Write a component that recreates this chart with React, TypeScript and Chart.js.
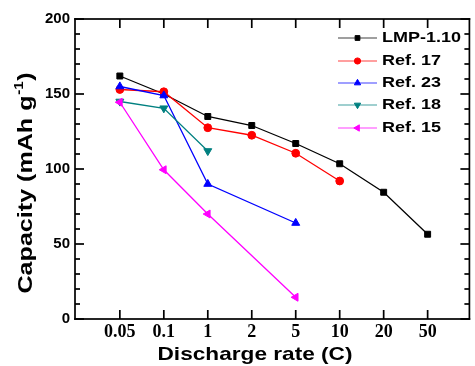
import React, { useEffect, useRef } from 'react';
import { Chart, registerables } from 'chart.js';
import { drawPoint } from 'chart.js/helpers';

Chart.register(...registerables);

const rateLabels = ['0.05', '0.1', '1', '2', '5', '10', '20', '50'];
const yTicks = [0, 50, 100, 150, 200];
const lmp110 = [162, 150, 135, 129, 117, 103.5, 84.5, 56.5];
const ref17 = [153, 151.5, 127.5, 122.5, 110.5, 92];
const ref23 = [155, 149, 90, null, 64];
const ref18 = [145, 140.5, 112];
const ref15 = [144.5, 99.5, 70, null, 14.5];

const seriesNames = ['LMP-1.10', 'Ref. 17', 'Ref. 23', 'Ref. 18', 'Ref. 15'];
const seriesValues = [lmp110, ref17, ref23, ref18, ref15];
const seriesColors = ['#000000', '#ff0000', '#0000ff', '#008080', '#ff00ff'];
const seriesStyles = ['rect', 'circle', 'triangle', 'triangle', 'triangle'];
const seriesRot = [0, 0, 0, 180, -90];
const seriesRadius = [4.2, 3.9, 4.6, 4.6, 4.6];

const toPoints = (arr: (number | null)[]) =>
  arr.map((v, i) => (v == null ? null : { x: i, y: v })).filter((p) => p !== null);

const framePlugin = {
  id: 'boxFrame',
  afterDraw(chart: any) {
    const ctx: CanvasRenderingContext2D = chart.ctx;
    const { left, right, top, bottom } = chart.chartArea;
    const xs = chart.scales.x;
    const ys = chart.scales.y;
    ctx.save();
    ctx.fillStyle = '#000000';
    const lw = 1.7;
    ctx.fillRect(left - lw / 2, top - lw / 2, right - left + lw, lw);
    ctx.fillRect(left - lw / 2, bottom - lw / 2, right - left + lw, lw);
    ctx.fillRect(left - lw / 2, top - lw / 2, lw, bottom - top + lw);
    ctx.fillRect(right - lw / 2, top - lw / 2, lw, bottom - top + lw);
    const tw = 1.7;
    for (let i = 0; i < rateLabels.length; i++) {
      const px = xs.getPixelForValue(i);
      ctx.fillRect(px - tw / 2, bottom - 9, tw, 9);
      ctx.fillRect(px - tw / 2, top, tw, 9);
    }
    for (let v = 0; v <= 200; v += 10) {
      const py = ys.getPixelForValue(v);
      const len = v % 50 === 0 ? 9 : 5;
      ctx.fillRect(left, py - tw / 2, len, tw);
      ctx.fillRect(right - len, py - tw / 2, len, tw);
    }
    ctx.restore();
  },
};

const textPlugin = {
  id: 'titlesLegend',
  afterDraw(chart: any) {
    const { ctx } = chart;
    ctx.save();
    ctx.fillStyle = '#000';
    // x title
    ctx.font = 'bold 19px "Liberation Sans", Arial, sans-serif';
    ctx.textBaseline = 'middle';
    const xt = 'Discharge rate (C)';
    const xw = ctx.measureText(xt).width;
    ctx.save();
    ctx.translate(255, 355);
    ctx.scale(195 / xw, 1);
    ctx.textAlign = 'center';
    ctx.fillText(xt, 0, 0);
    ctx.restore();

    // y title
    const mainFont = 'bold 20px "Liberation Sans", Arial, sans-serif';
    const supFont = 'bold 12px "Liberation Sans", Arial, sans-serif';
    const p1 = 'Capacity (mAh g';
    const sup = '-1';
    const p2 = ')';
    ctx.font = mainFont;
    const w1 = ctx.measureText(p1).width;
    const w3 = ctx.measureText(p2).width;
    ctx.font = supFont;
    const w2 = ctx.measureText(sup).width;
    const total = w1 + w2 + w3 + 1;
    ctx.save();
    ctx.translate(25, 183);
    ctx.rotate(-Math.PI / 2);
    ctx.scale(221 / total, 1);
    ctx.textAlign = 'left';
    ctx.textBaseline = 'alphabetic';
    const base = 7;
    let x0 = -total / 2;
    ctx.font = mainFont;
    ctx.fillText(p1, x0, base);
    x0 += w1 + 0.5;
    ctx.font = supFont;
    ctx.fillText(sup, x0, base - 9);
    x0 += w2 + 0.5;
    ctx.font = mainFont;
    ctx.fillText(p2, x0, base);
    ctx.restore();

    // legend
    const rows = [38, 61, 83, 105, 128];
    ctx.font = 'bold 15px "Liberation Sans", Arial, sans-serif';
    ctx.textBaseline = 'middle';
    ctx.textAlign = 'left';
    seriesNames.forEach((name, i) => {
      const y = rows[i];
      ctx.save();
      ctx.strokeStyle = seriesColors[i];
      ctx.globalAlpha = 0.75;
      ctx.lineWidth = 1.2;
      ctx.beginPath();
      ctx.moveTo(338, y);
      ctx.lineTo(377, y);
      ctx.stroke();
      ctx.restore();
      ctx.save();
      ctx.fillStyle = seriesColors[i];
      ctx.strokeStyle = seriesColors[i];
      ctx.lineWidth = 1;
      drawPoint(ctx, { pointStyle: seriesStyles[i], rotation: seriesRot[i], radius: seriesRadius[i] * 0.8, borderWidth: 1 } as any, 357.5, y);
      ctx.restore();
      ctx.save();
      ctx.translate(382, y);
      ctx.scale(1.2, 1);
      ctx.fillStyle = '#000';
      ctx.fillText(name, 0, 0);
      ctx.restore();
    });
    ctx.restore();
  },
};

export default function App() {
  const ref = useRef<HTMLCanvasElement | null>(null);
  useEffect(() => {
    if (!ref.current) return;
    const datasets = seriesNames.map((name, i) => ({
      label: name,
      data: toPoints(seriesValues[i]),
      borderColor: seriesColors[i],
      backgroundColor: seriesColors[i],
      borderWidth: 1.3,
      pointStyle: seriesStyles[i],
      rotation: seriesRot[i],
      pointRadius: seriesRadius[i],
      pointBorderWidth: 1,
      showLine: true,
      tension: 0,
      order: 5 - i,
      clip: false as any,
    }));
    const chart = new Chart(ref.current, {
      type: 'scatter',
      data: { datasets: datasets as any },
      options: {
        animation: false,
        responsive: true,
        maintainAspectRatio: false,
        layout: { padding: { top: 19, right: 3, left: 0, bottom: 0 } },
        plugins: { legend: { display: false }, tooltip: { enabled: false } },
        scales: {
          x: {
            type: 'linear',
            min: -1.02,
            max: 7.95,
            afterBuildTicks: (s: any) => {
              s.ticks = rateLabels.map((_, i) => ({ value: i }));
            },
            afterFit: (s: any) => {
              s.height = 47;
            },
            ticks: {
              callback: (v: any) => rateLabels[v] ?? '',
              font: { family: '"Liberation Serif", "Times New Roman", serif', size: 18, weight: 'bold' },
              color: '#000',
              padding: 3,
              maxRotation: 0,
              autoSkip: false,
            },
            grid: { display: false, drawTicks: false },
            border: { display: false },
          },
          y: {
            min: 0,
            max: 200,
            afterBuildTicks: (s: any) => {
              s.ticks = yTicks.map((v) => ({ value: v }));
            },
            afterFit: (s: any) => {
              s.width = 75;
            },
            ticks: {
              font: { family: '"Liberation Sans", Arial, sans-serif', size: 15, weight: 'bold' },
              color: '#000',
              padding: 5,
            },
            grid: { display: false, drawTicks: false },
            border: { display: false },
          },
        },
      },
      plugins: [framePlugin, textPlugin],
    });
    return () => chart.destroy();
  }, []);
  return (
    <div style={{ position: 'absolute', left: 0, top: 0, width: 475, height: 366 }}>
      <canvas ref={ref} />
    </div>
  );
}
